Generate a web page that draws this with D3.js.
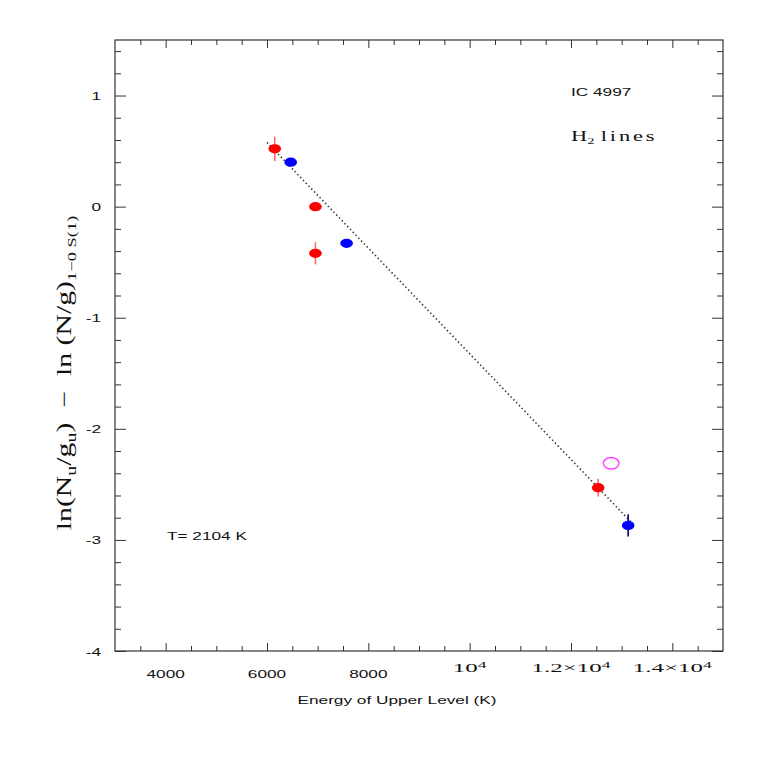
<!DOCTYPE html>
<html>
<head>
<meta charset="utf-8">
<script src="https://cdn.jsdelivr.net/npm/d3@7"></script>
<style>
  body { margin: 0; background: #fff; }
  .sans { font-family: "Liberation Sans", Arial, sans-serif; fill: #111; }
  .serif { font-family: "Liberation Serif", "Times New Roman", serif; fill: #111; white-space: pre; }
</style>
</head>
<body>
<script>
// chart values
var redE = [6153, 6956, 6956, 12537];
var redY = [0.52, 0.0, -0.42, -2.53];
var redErr = [0.11, 0.02, 0.1, 0.08];

var blueE = [6468, 7571, 13128];
var blueY = [0.40, -0.33, -2.87];
var blueErr = [0.02, 0.02, 0.1];

var openE = [12793];
var openY = [-2.31];

// fitted line end points (T = 2104 K)
var fitE = [6000, 13250];
var fitY = [0.578, -2.87];

var xTicks = [4000, 6000, 8000, 10000, 12000, 14000];
var xTickLabels = ["4000", "6000", "8000", "10^4", "1.2\u00d710^4", "1.4\u00d710^4"];
var yTicks = [1, 0, -1, -2, -3, -4];
var yTickLabels = ["1", "0", "-1", "-2", "-3", "-4"];

var width = 763, height = 763;
var padL = 115, padR = 723, padT = 40, padB = 651;

// the old plotting fonts are wide, so text gets stretched sideways
var sansSize = 11.8, sansWide = 1.46;
var serifSize = 12.8, serifWide = 1.95;

var svg = d3.select('body').append('svg')
  .attr('width', width)
  .attr('height', height);

var x = d3.scaleLinear().domain([3000, 15000]).range([padL, padR]);
var y = d3.scaleLinear().domain([-4, 1.5]).range([padB, padT]);

var minorX = d3.range(3500, 15000, 500).filter(function(v) { return v % 2000 != 0; });
var minorY = d3.range(-3.8, 1.5, 0.2).map(function(v) { return Math.round(v * 10) / 10; })
  .filter(function(v) { return Math.abs(v - Math.round(v)) > 0.01; });

// ticks on all four sides, pointing inwards
function drawTicks(axis, vals, size, tr) {
  var g = svg.append('g').attr('transform', tr)
    .call(axis.tickValues(vals).tickSize(size).tickFormat(''));
  g.select('.domain').remove();
  g.selectAll('line').attr('stroke', '#333');
}
drawTicks(d3.axisBottom(x), xTicks, -8, 'translate(0,' + padB + ')');
drawTicks(d3.axisBottom(x), minorX, -5, 'translate(0,' + padB + ')');
drawTicks(d3.axisTop(x), xTicks, -8, 'translate(0,' + padT + ')');
drawTicks(d3.axisTop(x), minorX, -5, 'translate(0,' + padT + ')');
drawTicks(d3.axisLeft(y), yTicks, -11, 'translate(' + padL + ',0)');
drawTicks(d3.axisLeft(y), minorY, -6, 'translate(' + padL + ',0)');
drawTicks(d3.axisRight(y), yTicks, -11, 'translate(' + padR + ',0)');
drawTicks(d3.axisRight(y), minorY, -6, 'translate(' + padR + ',0)');

svg.append('rect')
  .attr('x', padL).attr('y', padT)
  .attr('width', padR - padL).attr('height', padB - padT)
  .attr('fill', 'none').attr('stroke', '#333').attr('stroke-width', 1.2);

// text helper: anchored at (px,py), stretched sideways by k
function label(px, py, cls, size, anchor, k, rot) {
  return svg.append('text').attr('class', cls)
    .attr('transform', 'translate(' + px + ',' + py + ')' + (rot ? ' rotate(' + rot + ')' : '') + ' scale(' + k + ',1)')
    .attr('text-anchor', anchor).attr('font-size', size);
}

// x tick labels: plain numbers in sans, powers of ten in serif
xTickLabels.forEach(function(lab, i) {
  if (lab.indexOf('^') < 0) {
    label(x(xTicks[i]), 678, 'sans', sansSize, 'middle', sansWide).text(lab);
  } else {
    var parts = lab.split('^');
    var t = label(x(xTicks[i]), 672, 'serif', serifSize, 'middle', serifWide);
    t.append('tspan').text(parts[0]);
    t.append('tspan').attr('dy', -4).attr('font-size', 9).text(parts[1]);
  }
});

yTicks.forEach(function(v, i) {
  label(101, y(v) + 4.5, 'sans', sansSize, 'end', sansWide).text(yTickLabels[i]);
});

label(397, 704, 'sans', sansSize, 'middle', sansWide).text('Energy of Upper Level (K)');

// y axis title with subscripts
var yl = label(71, 373, 'serif', 21, 'middle', 1.42, -90);
yl.append('tspan').text('ln(N');
yl.append('tspan').attr('font-size', 14).attr('dy', 5).text('u');
yl.append('tspan').attr('dy', -5).text('/g');
yl.append('tspan').attr('font-size', 14).attr('dy', 5).text('u');
yl.append('tspan').attr('dy', -5).text(')  \u2212  ln (N/g)');
yl.append('tspan').attr('font-size', 13).attr('dy', 5).text('1\u22120 S(1)');

label(571, 96, 'sans', sansSize, 'start', sansWide).text('IC 4997');
var h2 = label(571, 141, 'serif', 14, 'start', 1.6);
h2.append('tspan').text('H');
h2.append('tspan').attr('font-size', 9).attr('dy', 3).text('2');
h2.append('tspan').attr('dy', -3).attr('dx', 4).attr('letter-spacing', 1.8).text('lines');

label(167, 540, 'sans', sansSize, 'start', sansWide).text('T= 2104 K');

// fit line
var line = d3.line()
  .x(function(d) { return x(d[0]); })
  .y(function(d) { return y(d[1]); });
svg.append('path')
  .datum(d3.zip(fitE, fitY))
  .attr('d', line)
  .attr('fill', 'none').attr('stroke', '#333')
  .attr('stroke-width', 1.6).attr('stroke-dasharray', '1.4,2.6');

function drawPoints(E, Y, err, fill, barColor) {
  var pts = d3.range(E.length).map(function(i) { return {e: E[i], v: Y[i], err: err[i]}; });
  svg.append('g').selectAll('line').data(pts).enter().append('line')
    .attr('x1', function(d) { return x(d.e); })
    .attr('x2', function(d) { return x(d.e); })
    .attr('y1', function(d) { return y(d.v + d.err); })
    .attr('y2', function(d) { return y(d.v - d.err); })
    .attr('stroke', barColor).attr('stroke-width', 1.6);
  svg.append('g').selectAll('ellipse').data(pts).enter().append('ellipse')
    .attr('cx', function(d) { return x(d.e); })
    .attr('cy', function(d) { return y(d.v); })
    .attr('rx', 6.3).attr('ry', 4.6)
    .attr('fill', fill);
}
drawPoints(redE, redY, redErr, '#ff0000', '#ff6a6a');
drawPoints(blueE, blueY, blueErr, '#0000ff', '#00007a');

svg.append('g').selectAll('ellipse').data(d3.zip(openE, openY)).enter().append('ellipse')
  .attr('cx', function(d) { return x(d[0]); })
  .attr('cy', function(d) { return y(d[1]); })
  .attr('rx', 7.8).attr('ry', 5.8)
  .attr('fill', 'none').attr('stroke', '#ff44ff').attr('stroke-width', 1.4);
</script>
</body>
</html>
